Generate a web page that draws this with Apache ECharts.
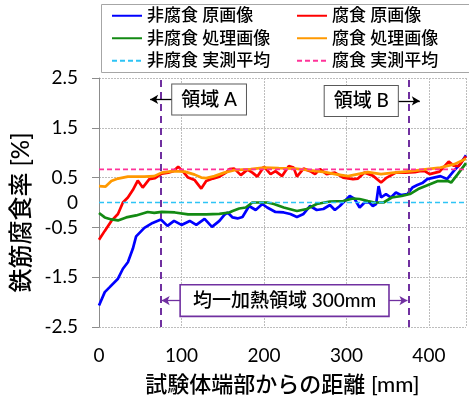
<!DOCTYPE html>
<html><head><meta charset="utf-8">
<script src="https://cdn.jsdelivr.net/npm/echarts@6/dist/echarts.min.js"></script>
<style>html,body{margin:0;padding:0;background:#fff}#c{width:469px;height:401px}</style>
</head><body><div id="c"></div>
<script>
const FONT = 'Lato, "Noto Sans CJK JP", sans-serif';

// ---- series names ----
const names = ['非腐食 原画像', '腐食 原画像', '非腐食 処理画像', '腐食 処理画像', '非腐食 実測平均', '腐食 実測平均'];

// ---- data [distance mm, corrosion %] ----
const nonCorrOrig = [[0,-2.07],[7,-1.80],[13,-1.70],[23,-1.53],[29,-1.33],[35,-1.20],[41,-0.93],[45,-0.68],[55,-0.51],[65,-0.41],[75,-0.34],[83,-0.47],[91,-0.37],[100,-0.45],[110,-0.37],[118,-0.45],[128,-0.33],[137,-0.49],[146,-0.37],[152,-0.25],[156,-0.2],[162,-0.3],[168,-0.32],[174,-0.29],[182,-0.07],[190,-0.15],[198,-0.03],[204,-0.1],[214,-0.19],[224,-0.2],[232,-0.23],[240,-0.29],[248,-0.23],[256,-0.07],[264,-0.15],[272,-0.13],[280,-0.05],[286,-0.15],[292,-0.07],[298,0.03],[304,0.13],[310,0.07],[316,-0.1],[322,0.0],[328,0],[332,-0.07],[336,-0.03],[339,0.33],[342,0.1],[348,0.17],[354,0.1],[360,0.2],[366,0.15],[374,0.17],[380,0.3],[386,0.35],[392,0.39],[398,0.47],[406,0.5],[414,0.53],[422,0.47],[430,0.63],[438,0.77],[445,0.95]];
const corrOrig = [[0,-0.75],[7,-0.57],[15,-0.37],[23,-0.23],[29,0],[35,0.1],[41,0.25],[47,0.44],[53,0.3],[61,0.47],[68,0.49],[76,0.58],[84,0.6],[90,0.63],[96,0.72],[102,0.62],[108,0.5],[116,0.45],[124,0.28],[130,0.43],[138,0.48],[146,0.52],[154,0.6],[158,0.67],[164,0.68],[172,0.55],[180,0.66],[186,0.6],[192,0.52],[200,0.72],[208,0.57],[214,0.63],[222,0.53],[230,0.73],[236,0.7],[240,0.52],[248,0.68],[256,0.63],[262,0.57],[268,0.67],[276,0.57],[286,0.6],[296,0.5],[308,0.47],[314,0.48],[322,0.6],[332,0.54],[342,0.4],[349,0.5],[360,0.6],[371,0.6],[383,0.61],[389,0.63],[395,0.63],[401,0.57],[413,0.62],[424,0.82],[430,0.74],[436,0.73],[445,0.93]];
const nonCorrProc = [[0,-0.21],[7,-0.3],[15,-0.34],[23,-0.36],[33,-0.3],[45,-0.26],[59,-0.19],[67,-0.21],[76,-0.19],[92,-0.2],[108,-0.24],[130,-0.24],[146,-0.23],[158,-0.2],[162,-0.17],[170,-0.12],[178,-0.1],[186,0],[204,0],[212,-0.03],[224,-0.1],[240,-0.17],[252,-0.13],[264,-0.03],[280,0.02],[296,0.03],[308,0.08],[316,0.07],[326,0.03],[334,0],[345,0],[355,0.1],[367,0.13],[377,0.17],[387,0.27],[399,0.35],[411,0.43],[423,0.43],[427,0.4],[435,0.57],[445,0.79]];
const corrProc = [[0,0.33],[8,0.32],[15,0.43],[23,0.48],[35,0.52],[55,0.52],[67,0.53],[76,0.6],[90,0.63],[104,0.62],[116,0.56],[124,0.5],[130,0.49],[140,0.53],[152,0.6],[164,0.65],[184,0.67],[200,0.7],[218,0.69],[238,0.68],[254,0.65],[274,0.61],[286,0.57],[302,0.53],[314,0.57],[326,0.61],[342,0.57],[358,0.6],[378,0.63],[398,0.67],[414,0.7],[431,0.77],[445,0.88]];
const nonCorrMean = [[0,0],[445,0]];
const corrMean = [[0,0.667],[445,0.667]];

// ---- axes ----
const xMin = 0, xMax = 445, xInterval = 100;
const yMin = -2.5, yMax = 2.5, yInterval = 1;

// ---- annotations (data coords) ----
const regionEdges = [75, 375];
const boxA = {text: '領域 A', x: 133.5, y: 2.07};
const boxB = {text: '領域 B', x: 318, y: 2.04};
const boxU = {text: '均一加熱領域 300mm', x: 225, y: -1.97};
const arrowA = [[89, 2.07], [62, 2.07]];
const arrowB = [[362, 2.04], [389, 2.04]];
const arrowU1 = [[100, -1.97], [76, -1.97]];
const arrowU2 = [[350, -1.97], [374, -1.97]];

const colors = ['#0000FF', '#FF0000', '#138A13', '#FF9900', '#2EC4F5', '#FF3399'];
const seriesData = [nonCorrOrig, corrOrig, nonCorrProc, corrProc, nonCorrMean, corrMean];

const chart = echarts.init(document.getElementById('c'), null, {renderer: 'canvas'});

const series = seriesData.map((d, i) => ({
  type: 'line', name: names[i], data: d, showSymbol: false, symbol: 'none',
  lineStyle: i < 4 ? {color: colors[i], width: 2.7} : {color: colors[i], width: 1.7, type: [5, 3]},
  itemStyle: {color: colors[i]},
  silent: true, z: 3 + i
}));

series.push({
  type: 'line', name: '_edges', data: [], silent: true, z: 10,
  markLine: {silent: true, symbol: ['none', 'none'], label: {show: false}, animation: false,
    lineStyle: {color: '#7030A0', width: 2, type: [7, 5]},
    data: regionEdges.map(v => ({xAxis: v}))}
});
const arrowLine = (pair, color) => [{coord: pair[0], lineStyle: {color: color, width: 1.3, type: 'solid'}}, {coord: pair[1]}];
series.push({
  type: 'line', name: '_arrows', data: [], silent: true, z: 11,
  markLine: {silent: true, symbol: ['none', 'arrow'], symbolSize: [7, 8], label: {show: false}, animation: false,
    data: [arrowLine(arrowA, '#000'), arrowLine(arrowB, '#000'), arrowLine(arrowU1, '#7030A0'), arrowLine(arrowU2, '#7030A0')]}
});

const legendCommon = {
  orient: 'vertical', itemWidth: 30, itemHeight: 14, itemGap: 0, padding: 0,
  textStyle: {fontFamily: FONT, fontSize: 17, fontWeight: 500, color: '#000', lineHeight: 22.5},
  itemStyle: {opacity: 0}, selectedMode: false, top: 4.5
};

chart.setOption({
  animation: false,
  backgroundColor: '#fff',
  grid: {left: 99, right: 0, top: 78, bottom: 73, containLabel: false},
  legend: [
    Object.assign({}, legendCommon, {left: 111, data: [names[0], names[2], names[4]]}),
    Object.assign({}, legendCommon, {left: 296, data: [names[1], names[3], names[5]]})
  ],
  xAxis: {
    type: 'value', min: xMin, max: xMax, interval: xInterval,
    name: '試験体端部からの距離 [mm]', nameLocation: 'middle', nameGap: 47,
    nameTextStyle: {fontFamily: FONT, fontSize: 22, fontWeight: 500, color: '#000'},
    axisLine: {show: false}, axisTick: {show: false},
    axisLabel: {fontFamily: FONT, fontSize: 19, color: '#000', margin: 19,
      formatter: v => (v % 100 === 0 ? String(v) : '')},
    splitLine: {show: true, lineStyle: {color: '#bdbdbd', type: [2, 1], width: 1}}
  },
  yAxis: [{
    type: 'value', min: yMin, max: yMax, interval: yInterval,
    name: '鉄筋腐食率 [%]', nameLocation: 'middle', nameGap: 60,
    nameTextStyle: {fontFamily: FONT, fontSize: 24, fontWeight: 500, color: '#000', padding: [0, 20, 0, 0]},
    axisLine: {show: true, lineStyle: {color: '#8c8c8c', width: 1}},
    axisTick: {show: true, length: 7, lineStyle: {color: '#8c8c8c', width: 1}},
    axisLabel: {fontFamily: FONT, fontSize: 19, color: '#000', margin: 21},
    splitLine: {show: true, lineStyle: {color: '#bdbdbd', type: [2, 1], width: 1}}
  }, {
    type: 'value', min: yMin, max: yMax, interval: 2.5, position: 'left',
    axisLine: {show: false}, axisTick: {show: false}, splitLine: {show: false},
    axisLabel: {fontFamily: FONT, fontSize: 19, color: '#000', margin: 21,
      formatter: v => (v === 0 ? '0' : '')}
  }],
  series: series
});

function box(b, border, bw, padH) {
  const p = chart.convertToPixel({gridIndex: 0}, [b.x, b.y]);
  return {type: 'text', x: p[0], y: p[1], z: 100, silent: true,
    style: {text: b.text, font: '500 19px ' + FONT, fill: '#000', align: 'center', verticalAlign: 'middle',
      backgroundColor: '#fff', borderColor: border, borderWidth: bw, padding: [6, padH, 5, padH]}};
}
chart.setOption({
  graphic: [
    {type: 'rect', z: 0, silent: true, shape: {x: 101.5, y: 4.5, width: 380, height: 68},
      style: {fill: '#fff', stroke: '#a6a6a6', lineWidth: 1}},
    box(boxA, '#595959', 1, 9),
    box(boxB, '#595959', 1, 9),
    box(boxU, '#7030A0', 1.6, 12)
  ]
});
</script></body></html>
